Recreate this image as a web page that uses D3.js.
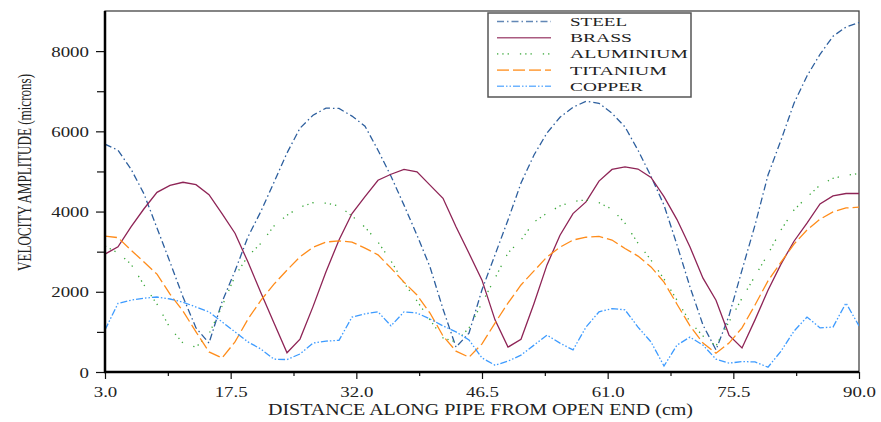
<!DOCTYPE html>
<html>
<head>
<meta charset="utf-8">
<script src="https://cdn.jsdelivr.net/npm/d3@7"></script>
<style>
  html, body { margin: 0; padding: 0; background: #fff; }
  svg { display: block; }
  text { font-family: "Liberation Serif", "Times New Roman", serif; fill: #222; }
</style>
</head>
<body>
<svg id="chart" width="881" height="422"></svg>
<script>
// velocity amplitude along pipe — five materials, sampled every 1.5 cm

const distance = [
  3, 4.5, 6, 7.5, 9, 10.5, 12, 13.5, 15, 16.5,
  18, 19.5, 21, 22.5, 24, 25.5, 27, 28.5, 30, 31.5,
  33, 34.5, 36, 37.5, 39, 40.5, 42, 43.5, 45, 46.5,
  48, 49.5, 51, 52.5, 54, 55.5, 57, 58.5, 60, 61.5,
  63, 64.5, 66, 67.5, 69, 70.5, 72, 73.5, 75, 76.5,
  78, 79.5, 81, 82.5, 84, 85.5, 87, 88.5, 90
];

const steel = [
  5680, 5530, 5060, 4440, 3590, 2740, 1870, 1100, 720, 1745,
  2520, 3370, 4010, 4730, 5460, 6080, 6400, 6580, 6570, 6380,
  6130, 5530, 4880, 4160, 3410, 2620, 1570, 620, 970, 2050,
  2920, 3790, 4710, 5410, 5960, 6350, 6600, 6750, 6700, 6450,
  6110, 5530, 4880, 4160, 3170, 2120, 1170, 550, 1400, 2540,
  3660, 4910, 5780, 6700, 7380, 7920, 8370, 8600, 8710
];

const brass = [
  2940, 3120, 3620, 4070, 4480, 4650, 4730, 4670, 4420, 3950,
  3460, 2740, 1970, 1220, 480, 820, 1630, 2500, 3290, 3950,
  4370, 4780, 4930, 5050, 4990, 4660, 4330, 3620, 2960, 2290,
  1300, 620, 815, 1710, 2670, 3410, 3950, 4240, 4760, 5050,
  5115, 5060, 4850, 4370, 3800, 3115, 2340, 1790, 920, 600,
  1300, 2040, 2690, 3260, 3710, 4190, 4390, 4450, 4450
];

const aluminium = [
  3140, 2970, 2690, 2170, 1690, 1100, 720, 620, 950, 1640,
  2390, 2890, 3210, 3640, 3910, 4110, 4220, 4210, 4140, 3890,
  3610, 3240, 2770, 2220, 1770, 1300, 850, 750, 1100, 1720,
  2340, 2970, 3290, 3740, 3960, 4140, 4250, 4290, 4220, 4060,
  3710, 3210, 2790, 2320, 1790, 1250, 900, 650, 1250, 1840,
  2390, 2940, 3540, 4040, 4360, 4660, 4830, 4900, 4950
];

const titanium = [
  3390, 3350, 3040, 2740, 2440, 1940, 1520, 1000, 500, 350,
  750, 1320, 1790, 2190, 2540, 2870, 3110, 3240, 3270, 3240,
  3090, 2920, 2590, 2240, 1920, 1470, 900, 520, 370, 700,
  1220, 1720, 2170, 2520, 2870, 3110, 3290, 3360, 3380, 3290,
  3080, 2890, 2620, 2240, 1690, 1150, 720, 470, 720, 1100,
  1670, 2270, 2740, 3190, 3540, 3810, 3990, 4090, 4110
];

const copper = [
  1050, 1710, 1790, 1840, 1870, 1820, 1740, 1620, 1500, 1250,
  1000, 750, 570, 320, 310, 450, 720, 770, 790, 1370,
  1450, 1500, 1150, 1500, 1470, 1320, 1150, 1000, 800, 350,
  170, 270, 420, 670, 920, 720, 550, 1120, 1500, 1580,
  1550, 1120, 750, 150, 670, 870, 670, 320, 220, 260,
  250, 120, 520, 1020, 1370, 1100, 1120, 1720, 1150
];

const seriesNames = ["STEEL", "BRASS", "ALUMINIUM", "TITANIUM", "COPPER"];
const xTicks = [3, 17.5, 32, 46.5, 61, 75.5, 90];
const xMinorTicks = [10.25, 24.75, 39.25, 53.75, 68.25, 82.75];
const yTicks = [0, 2000, 4000, 6000, 8000];
const yMinorTicks = [1000, 3000, 5000, 7000];

// styling per series, same order as seriesNames
const STYLE = [
  { color: "#2d5f9e", dash: "7,3,1.5,3" },
  { color: "#8e2456", dash: null },
  { color: "#3aa83a", dash: "1.3,4,1.3,4,1.3,11" },
  { color: "#ff8c1a", dash: "12,4" },
  { color: "#3d9bff", dash: "7,2,1.5,2,1.5,2" }
];
const values = [steel, brass, aluminium, titanium, copper];

const L = 105, R = 859, T = 11, B = 372;
const svg = d3.select("#chart");

const x = d3.scaleLinear().domain([3, 90]).range([L, R]);
const y = d3.scaleLinear().domain([0, 9000]).range([B, T]);

// frame (thin top + right)
svg.append("rect")
  .attr("x", L).attr("y", T).attr("width", R - L).attr("height", B - T)
  .attr("fill", "none").attr("stroke", "#444").attr("stroke-width", 1.3);

// clip for the curves
svg.append("clipPath").attr("id", "plotclip")
  .append("rect").attr("x", L).attr("y", T).attr("width", R - L).attr("height", B - T);

const line = d3.line()
  .x(function (d, i) { return x(distance[i]); })
  .y(function (d) { return y(d); });

const plot = svg.append("g").attr("clip-path", "url(#plotclip)");
values.forEach(function (arr, k) {
  plot.append("path")
    .attr("d", line(arr))
    .attr("fill", "none")
    .attr("stroke", STYLE[k].color)
    .attr("stroke-width", 1.3)
    .attr("stroke-dasharray", STYLE[k].dash);
});

// axes
const TICK_FONT = 14, STRETCH = 1.35;

const xAxis = svg.append("g")
  .attr("transform", "translate(0," + B + ")")
  .call(d3.axisBottom(x).tickValues(xTicks).tickFormat(d3.format(".1f"))
    .tickSizeInner(7).tickSizeOuter(0).tickPadding(8));
xAxis.selectAll("text")
  .attr("font-size", TICK_FONT)
  .attr("transform", "scale(" + STRETCH + ",1)")
  .style("font-family", "Liberation Serif, serif")
  .attr("fill", "#3a3a3a");
svg.append("g")
  .attr("transform", "translate(0," + B + ")")
  .call(d3.axisBottom(x).tickValues(xMinorTicks).tickFormat("")
    .tickSizeInner(4).tickSizeOuter(0));

const yAxis = svg.append("g")
  .attr("transform", "translate(" + L + ",0)")
  .call(d3.axisLeft(y).tickValues(yTicks).tickFormat(d3.format("d"))
    .tickSizeInner(9).tickSizeOuter(0).tickPadding(3));
yAxis.selectAll("text")
  .attr("font-size", TICK_FONT)
  .attr("x", -16 / STRETCH)
  .attr("dy", "0.36em")
  .attr("transform", "scale(" + STRETCH + ",1)")
  .style("font-family", "Liberation Serif, serif")
  .attr("fill", "#3a3a3a");
svg.append("g")
  .attr("transform", "translate(" + L + ",0)")
  .call(d3.axisLeft(y).tickValues(yMinorTicks).tickFormat("")
    .tickSizeInner(8).tickSizeOuter(0));

svg.selectAll(".domain").remove();
svg.selectAll(".tick line").attr("stroke", "#111").attr("stroke-width", 1.2);

// thick left & bottom axis lines
svg.append("line").attr("x1", L).attr("x2", L).attr("y1", T).attr("y2", B + 1)
  .attr("stroke", "#000").attr("stroke-width", 2.5);
svg.append("line").attr("x1", L - 1).attr("x2", R).attr("y1", B).attr("y2", B)
  .attr("stroke", "#000").attr("stroke-width", 2.5);

// axis titles
svg.append("text")
  .attr("x", 268).attr("y", 415)
  .attr("font-size", 16)
  .attr("fill", "#333")
  .attr("textLength", 425).attr("lengthAdjust", "spacingAndGlyphs")
  .text("DISTANCE ALONG PIPE FROM OPEN END (cm)");

svg.append("text")
  .attr("transform", "translate(31,271) rotate(-90)")
  .attr("font-size", 18)
  .attr("fill", "#333")
  .attr("textLength", 197).attr("lengthAdjust", "spacingAndGlyphs")
  .text("VELOCITY AMPLITUDE (microns)");

// legend
const legend = svg.append("g");
legend.append("rect")
  .attr("x", 488).attr("y", 13).attr("width", 203).attr("height", 84)
  .attr("fill", "#fff").attr("stroke", "#555").attr("stroke-width", 1.5);
const LABEL_W = [57, 62, 118, 97, 73];
seriesNames.forEach(function (name, k) {
  const ly = 21.5 + k * 16.2;
  legend.append("line")
    .attr("x1", 497).attr("x2", 551).attr("y1", ly).attr("y2", ly)
    .attr("stroke", STYLE[k].color)
    .attr("stroke-opacity", 0.75)
    .attr("stroke-width", 1.6)
    .attr("stroke-dasharray", STYLE[k].dash);
  legend.append("text")
    .attr("x", 570).attr("y", ly + 4.5)
    .attr("font-size", 13)
    .attr("textLength", LABEL_W[k]).attr("lengthAdjust", "spacingAndGlyphs")
    .text(name);
});
</script>
</body>
</html>
